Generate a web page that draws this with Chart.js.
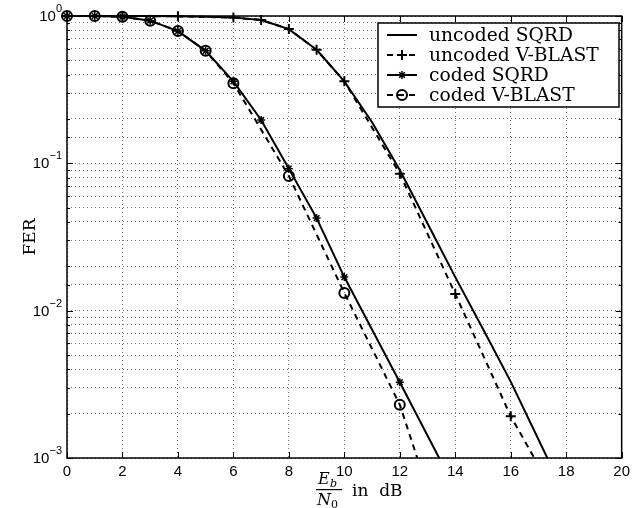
<!DOCTYPE html>
<html>
<head>
<meta charset="utf-8">
<script src="https://cdn.jsdelivr.net/npm/chart.js@4.4.0/dist/chart.umd.min.js"></script>
<style>
  html, body { margin: 0; padding: 0; background: #fff; }
</style>
</head>
<body>
<canvas id="c" width="635" height="508"></canvas>
<script>
// Eb/N0 in dB and FER
const seriesNames = ['uncoded SQRD', 'uncoded V-BLAST', 'coded SQRD', 'coded V-BLAST'];

const uncodedSqrdX = [0, 1, 2, 3, 4, 5, 6, 7, 8, 9, 10, 11, 12, 13, 14, 15, 16, 17.32];
const uncodedSqrdY = [1, 1, 1, 1, 0.995, 0.99, 0.975, 0.94, 0.815, 0.59, 0.36, 0.19, 0.09, 0.039, 0.0169, 0.0075, 0.0033, 0.001];

const uncodedVblastX = [0, 2, 4, 6, 7, 8, 9, 10, 12, 14, 16, 16.85];
const uncodedVblastY = [1, 1, 0.995, 0.975, 0.94, 0.815, 0.59, 0.36, 0.085, 0.013, 0.00192, 0.001];

const codedSqrdX = [0, 1, 2, 3, 4, 5, 6, 7, 8, 9, 10, 12, 13.42];
const codedSqrdY = [1, 1, 0.99, 0.93, 0.79, 0.58, 0.36, 0.197, 0.092, 0.0425, 0.0169, 0.00327, 0.001];

const codedVblastX = [0, 1, 2, 3, 4, 5, 6, 8, 10, 12, 12.63];
const codedVblastY = [1, 1, 0.99, 0.93, 0.79, 0.58, 0.35, 0.082, 0.0132, 0.0023, 0.001];

const xTickValues = [0, 2, 4, 6, 8, 10, 12, 14, 16, 18, 20];
const yTickValues = [0.001, 0.01, 0.1, 1];
const yTickExponents = ['\u22123', '\u22122', '\u22121', '0'];

const toPoints = (xs, ys) => xs.map((x, i) => ({ x: x, y: ys[i] }));
// no marker where a curve leaves the bottom of the plot
const markerSize = r => ctx => (ctx.raw && ctx.raw.y <= 0.001 ? 0 : r);

const axisFont = { family: 'Liberation Sans', size: 15 };
const serif = 'DejaVu Serif';

const boxPlugin = {
    id: 'boxPlugin',
    afterDatasetsDraw(chart) {
        const c = chart.ctx;
        const a = chart.chartArea;
        const xs = chart.scales.x;
        const ys = chart.scales.y;
        c.save();
        c.strokeStyle = '#000';
        c.lineWidth = 1.5;
        c.strokeRect(a.left, a.top, a.right - a.left, a.bottom - a.top);
        c.lineWidth = 1;
        c.beginPath();
        xTickValues.forEach(v => {
            const px = Math.round(xs.getPixelForValue(v)) + 0.5;
            c.moveTo(px, a.bottom); c.lineTo(px, a.bottom - 6);
            c.moveTo(px, a.top); c.lineTo(px, a.top + 6);
        });
        ys.ticks.forEach(t => {
            const e = Math.log10(t.value);
            const len = Math.abs(e - Math.round(e)) < 1e-6 ? 6 : 3;
            const py = Math.round(ys.getPixelForValue(t.value)) + 0.5;
            c.moveTo(a.left, py); c.lineTo(a.left + len, py);
            c.moveTo(a.right, py); c.lineTo(a.right - len, py);
        });
        c.stroke();

        // y tick labels: 10 with a raised exponent
        c.fillStyle = '#000';
        c.textBaseline = 'middle';
        yTickValues.forEach((v, i) => {
            const py = ys.getPixelForValue(v);
            const right = a.left - 5;
            c.font = '11px "Liberation Sans"';
            c.textAlign = 'right';
            c.fillText(yTickExponents[i], right, py - 7);
            const ew = c.measureText(yTickExponents[i]).width;
            c.font = '15px "Liberation Sans"';
            c.fillText('10', right - ew, py + 1);
        });
        c.restore();
    },
    afterDraw(chart) {
        const c = chart.ctx;
        c.save();
        c.fillStyle = '#000';
        c.strokeStyle = '#000';

        // legend
        const lx = 378, ly = 23, lw = 241, lh = 84;
        c.fillStyle = '#fff';
        c.fillRect(lx, ly, lw, lh);
        c.lineWidth = 1.5;
        c.strokeRect(lx, ly, lw, lh);
        c.fillStyle = '#000';
        c.font = '18.7px "' + serif + '"';
        c.textBaseline = 'middle';
        chart.data.datasets.forEach((ds, i) => {
            const y = ly + 12 + i * 20;
            c.save();
            c.lineWidth = ds.borderWidth;
            c.setLineDash(ds.borderDash || []);
            c.beginPath();
            c.moveTo(lx + 9, y); c.lineTo(lx + 39, y);
            c.stroke();
            c.restore();
            const r = typeof ds.pointRadius === 'function' ? ds.pointRadius({ raw: { y: 1 } }) : ds.pointRadius;
            if (r > 0) {
                c.save();
                c.lineWidth = ds.pointBorderWidth;
                c.strokeStyle = '#000';
                c.fillStyle = ds.pointBackgroundColor || '#000';
                Chart.helpers.drawPoint(c, { pointStyle: ds.pointStyle, radius: r, borderWidth: ds.pointBorderWidth, rotation: 0 }, lx + 24, y);
                c.restore();
            }
            c.fillText(ds.label, lx + 51, y + 1);
        });

        // x axis label: Eb/N0 in dB
        c.textAlign = 'left';
        c.textBaseline = 'alphabetic';
        c.font = 'italic 16px "' + serif + '"';
        c.fillText('E', 318, 484);
        c.font = 'italic 11px "' + serif + '"';
        c.fillText('b', 330, 487);
        c.fillRect(316, 489, 26, 1.2);
        c.font = 'italic 16px "' + serif + '"';
        c.fillText('N', 317, 505);
        c.font = '11px "' + serif + '"';
        c.fillText('0', 331, 508);
        c.font = '17px "' + serif + '"';
        c.fillText('in  dB', 352, 496);
        c.restore();
    }
};

new Chart(document.getElementById('c'), {
    type: 'line',
    data: {
        datasets: [
            {
                label: seriesNames[0],
                data: toPoints(uncodedSqrdX, uncodedSqrdY),
                borderColor: '#000',
                borderWidth: 2,
                pointRadius: 0,
                order: 2
            },
            {
                label: seriesNames[1],
                data: toPoints(uncodedVblastX, uncodedVblastY),
                borderColor: '#000',
                borderWidth: 2,
                borderDash: [6, 5],
                pointStyle: 'cross',
                pointRadius: markerSize(5),
                pointBorderWidth: 2,
                pointBorderColor: '#000',
                order: 3
            },
            {
                label: seriesNames[2],
                data: toPoints(codedSqrdX, codedSqrdY),
                borderColor: '#000',
                borderWidth: 2,
                pointStyle: 'star',
                pointRadius: markerSize(4),
                pointBorderWidth: 1.5,
                pointBorderColor: '#000',
                order: 1
            },
            {
                label: seriesNames[3],
                data: toPoints(codedVblastX, codedVblastY),
                borderColor: '#000',
                borderWidth: 2,
                borderDash: [6, 5],
                pointStyle: 'circle',
                pointRadius: markerSize(5),
                pointBorderWidth: 2,
                pointBorderColor: '#000',
                pointBackgroundColor: 'rgba(255,255,255,0)',
                order: 0
            }
        ]
    },
    options: {
        responsive: false,
        animation: false,
        clip: false,
        layout: { padding: { top: 16, right: 9, left: 0, bottom: 0 } },
        plugins: {
            legend: { display: false },
            tooltip: { enabled: false }
        },
        elements: { line: { tension: 0 } },
        scales: {
            x: {
                type: 'linear',
                min: 0,
                max: 20,
                afterFit: s => { s.height = 50; },
                afterBuildTicks: s => { s.ticks = xTickValues.map(v => ({ value: v })); },
                ticks: { color: '#000', font: axisFont, padding: 5, maxRotation: 0 },
                grid: { color: 'rgba(0,0,0,0.55)', lineWidth: 1, drawTicks: false },
                border: { display: false, dash: [1, 3] }
            },
            y: {
                type: 'logarithmic',
                min: 0.001,
                max: 1,
                afterFit: s => { s.width = 67; },
                ticks: {
                    autoSkip: false,
                    callback: () => ''
                },
                grid: { color: 'rgba(0,0,0,0.55)', lineWidth: 1, drawTicks: false },
                border: { display: false, dash: [1, 3] },
                title: {
                    display: true,
                    text: 'FER',
                    color: '#000',
                    font: { family: serif, size: 17 },
                    padding: { top: 20, bottom: 0 }
                }
            }
        }
    },
    plugins: [boxPlugin]
});
</script>
</body>
</html>
